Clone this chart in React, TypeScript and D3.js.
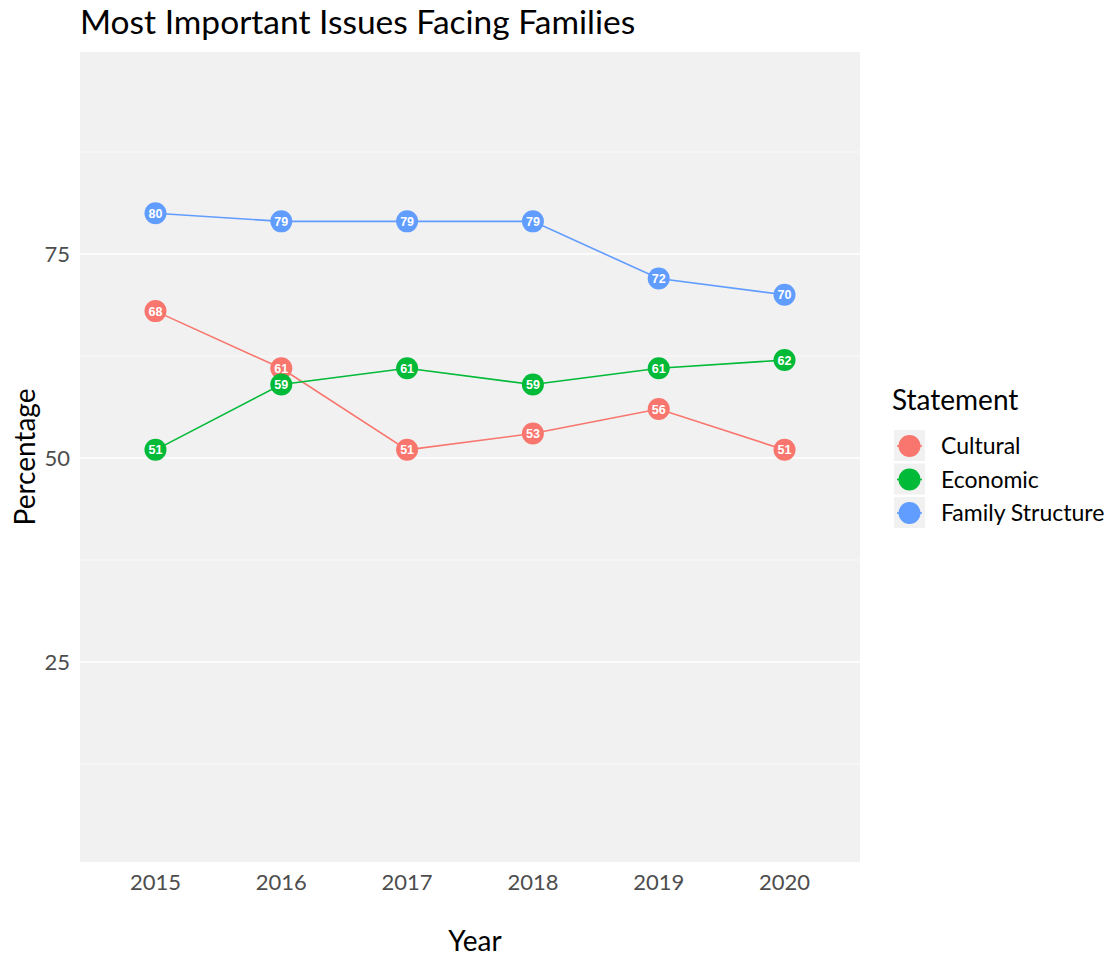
import React from "react";
import * as d3 from "d3";

const years = [2015, 2016, 2017, 2018, 2019, 2020];
const seriesNames = ["Cultural", "Economic", "Family Structure"];
const cultural = [68, 61, 51, 53, 56, 51];
const economic = [51, 59, 61, 59, 61, 62];
const familyStructure = [80, 79, 79, 79, 72, 70];
const colors = ["#F8766D", "#00BA38", "#619CFF"];
const yTicks = [25, 50, 75];
const yMinor = [12.5, 37.5, 62.5, 87.5];

const FONT = "Lato, 'Noto Sans', sans-serif";

export default function App() {
  const W = 1112, H = 958;
  const pL = 80, pR = 860, pT = 52, pB = 862;
  const x = d3.scaleLinear().domain([2014.4, 2020.6]).range([pL, pR]);
  const y = d3.scaleLinear().domain([0, 100]).range([866, 50]);
  const data = [cultural, economic, familyStructure];
  const line = d3.line<number>().x((_, i) => x(years[i])).y((v) => y(v));

  return (
    <svg width={W} height={H} style={{ position: "absolute", left: 0, top: 0 }} fontFamily={FONT}>
      <rect x={0} y={0} width={W} height={H} fill="#fff" />
      <text x={80} y={34} fontSize={33.5} fill="#000">Most Important Issues Facing Families</text>
      <rect x={pL} y={pT} width={pR - pL} height={pB - pT} fill="#F1F1F1" />
      {yMinor.map((v) => (
        <line key={"m" + v} x1={pL} x2={pR} y1={y(v)} y2={y(v)} stroke="#fff" strokeWidth={0.6} />
      ))}
      {yTicks.map((v) => (
        <line key={"g" + v} x1={pL} x2={pR} y1={y(v)} y2={y(v)} stroke="#fff" strokeWidth={1.3} />
      ))}
      {yTicks.map((v) => (
        <text key={"t" + v} x={70} y={y(v) + 7.5} fontSize={22} fill="#4D4D4D" textAnchor="end">{v}</text>
      ))}
      {years.map((yr) => (
        <text key={"x" + yr} x={x(yr)} y={890} fontSize={22} fill="#4D4D4D" textAnchor="middle">{yr}</text>
      ))}
      <text x={475} y={951} fontSize={28} textAnchor="middle" fill="#000">Year</text>
      <text transform={`translate(35,457) rotate(-90)`} fontSize={28} textAnchor="middle" fill="#000">Percentage</text>
      {data.map((vals, si) => (
        <path key={"l" + si} d={line(vals) || ""} fill="none" stroke={colors[si]} strokeWidth={1.6} />
      ))}
      {data.map((vals, si) =>
        vals.map((v, i) => (
          <g key={"p" + si + "-" + i}>
            <circle cx={x(years[i])} cy={y(v)} r={11} fill={colors[si]} />
            <text x={x(years[i])} y={y(v) + 4.5} fontSize={12.5} fontWeight="bold" fill="#fff"
              textAnchor="middle" fontFamily="'Liberation Sans', Arial, sans-serif">{v}</text>
          </g>
        ))
      )}
      <text x={892} y={410} fontSize={28} fill="#000">Statement</text>
      {seriesNames.map((n, i) => {
        const cy = 446 + i * 33.5;
        return (
          <g key={"lg" + n}>
            <rect x={894} y={cy - 16} width={31} height={31} fill="#F1F1F1" />
            <line x1={897} x2={922} y1={cy} y2={cy} stroke={colors[i]} strokeWidth={1.6} />
            <circle cx={909.5} cy={cy} r={11} fill={colors[i]} />
            <text x={941} y={cy + 8} fontSize={23} fill="#000">{n}</text>
          </g>
        );
      })}
    </svg>
  );
}
